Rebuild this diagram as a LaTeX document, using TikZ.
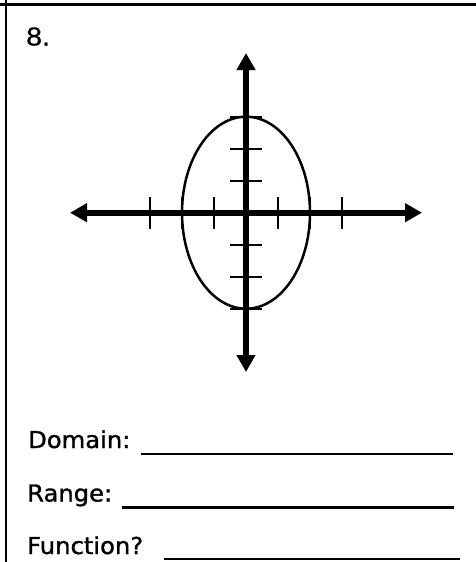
\documentclass[tikz,border=0pt]{standalone}
\usepackage{fontspec}
\setmainfont{DejaVu Sans}
\newfontfamily\labelfont[FakeStretch=1.04,FakeBold=1.2]{DejaVu Sans}
\newfontfamily\numfont[FakeStretch=1.1,FakeBold=0.6]{Liberation Sans}
\usetikzlibrary{arrows.meta}
\begin{document}
\begin{tikzpicture}[x=1pt,y=-1pt,
  border/.style={line width=2.5pt},
  axis/.style={line width=6pt,{Triangle[length=17pt,width=18pt]}-{Triangle[length=17pt,width=18pt]}},
  tick/.style={line width=2.2pt},
  curve/.style={line width=2.5pt},
  blank/.style={line width=2.4pt},
  lbl/.style={inner sep=0pt,anchor=base west,font=\labelfont\fontsize{23.3}{28}\selectfont}]
\useasboundingbox (0,0) rectangle (476,562);
% frame
\coordinate (tl) at (0,4.5);
\coordinate (tr) at (476,4.5);
\coordinate (lt) at (6,0);
\coordinate (lb) at (6,562);
\draw[border] (tl) -- (tr);
\draw[border] (lt) -- (lb);
% number
\node[inner sep=0pt,anchor=base west,font=\numfont\fontsize{26}{31}\selectfont] (num) at (26,45.5) {8.};
% ellipse
\coordinate (o) at (246,212.7);
\draw[curve] (o) ellipse [x radius=64, y radius=96];
% ticks on x-axis
\foreach \i in {-3,-2,-1,1,2,3}
  \draw[tick] ([shift={(\i*32,-16)}]o) -- ([shift={(\i*32,16)}]o);
% ticks on y-axis
\foreach \i in {-3,-2,-1,1,2,3}
  \draw[tick] ([shift={(-16,\i*32)}]o) -- ([shift={(16,\i*32)}]o);
% axes
\coordinate (xl) at (70,212.7);
\coordinate (xr) at (422,212.7);
\coordinate (yt) at (246,53);
\coordinate (yb) at (246,372);
\draw[axis] (xl) -- (xr);
\draw[axis] (yt) -- (yb);
% labels
\node[lbl] (dom) at (28,448) {Domain:};
\node[lbl] (ran) at (27,501.5) {Range:};
\node[lbl] (fun) at (27,554) {Function?};
\coordinate (d1) at (141,454);
\coordinate (d2) at (453,454);
\coordinate (r1) at (122,507.5);
\coordinate (r2) at (454,507.5);
\coordinate (f1) at (164,559);
\coordinate (f2) at (460,559);
\draw[blank] (d1) -- (d2);
\draw[blank] (r1) -- (r2);
\draw[blank] (f1) -- (f2);
\end{tikzpicture}
\end{document}
